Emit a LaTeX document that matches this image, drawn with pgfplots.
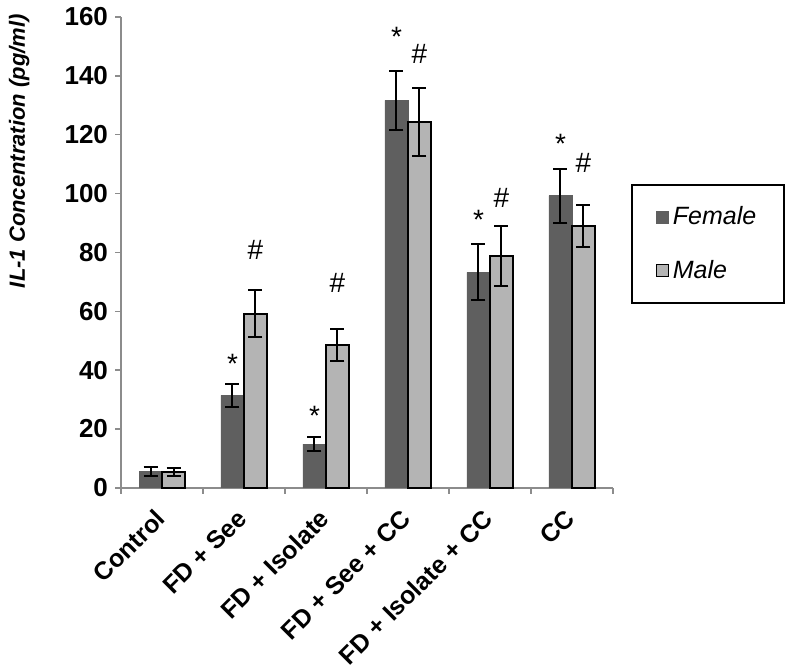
\documentclass[border=0pt]{standalone}
\usepackage{fontspec}
\setmainfont{Liberation Sans}
\usepackage{pgfplots}
\pgfplotsset{compat=1.18}
\definecolor{fem}{HTML}{5F5F5F}
\definecolor{mal}{HTML}{B4B4B4}
\definecolor{axgray}{HTML}{8C8C8C}
\pgfplotstableread{
x y err
0 5.5 1.5
1 31.4 4
2 14.9 2.3
3 131.7 10
4 73.2 9.5
5 99.3 9.2
}\female
\pgfplotstableread{
x y err
0 5.3 1.3
1 59.1 8
2 48.6 5.5
3 124.4 11.5
4 78.7 10.2
5 88.9 7.2
}\male
\begin{document}
\begin{tikzpicture}
\begin{axis}[
  scale only axis, width=246pt, height=235.5pt,
  xmin=-0.5, xmax=5.5, ymin=0, ymax=160,
  ybar=0pt, bar width=11.5pt,
  clip=false,
  axis x line*=bottom, axis y line*=left,
  axis line style={axgray, line width=0.75pt, -},
  ytick={0,20,...,160},
  xtick={0,...,5},
  xticklabels={Control, FD + See, FD + Isolate, FD + See + CC, FD + Isolate + CC, CC},
  minor xtick={-0.5,0.5,...,5.5},
  major x tick style={draw=none},
  tick align=outside,
  major tick length=3pt, minor tick length=3pt,
  every tick/.style={axgray, line width=0.75pt},
  /pgf/number format/assume math mode=true,
  yticklabel style={font=\bfseries\fontsize{13}{15}\selectfont, black},
  xticklabel style={font=\bfseries\fontsize{12.5}{15}\selectfont, black, xshift=-4pt, yshift=-6.8pt, rotate=45, anchor=north east, inner sep=0pt},
  ylabel={IL-1 Concentration (pg/ml)},
  ylabel style={font=\bfseries\itshape\fontsize{11}{13}\selectfont, at={(rel axis cs:-0.207,0.715)}, anchor=center},
  legend style={at={(rel axis cs:1.037,0.645)}, anchor=north west, draw=black, line width=0.75pt,
    font=\itshape\fontsize{12.5}{14}\selectfont, row sep=12pt, inner xsep=12pt, inner ysep=9pt},
  legend cell align=left,
  legend image code/.code={\draw[#1, line width=0.5pt] (0pt,-3pt) rectangle (6pt,3pt);},
  error bars/y dir=both, error bars/y explicit,
  error bars/error bar style={black, line width=1pt},
  error bars/error mark options={rotate=90, mark size=3.5pt, black, line width=1pt},
]
\addplot[fill=fem, draw=fem] table[x=x, y=y, y error=err] {\female};
\addplot[fill=mal, draw=black, line width=1pt] table[x=x, y=y, y error=err] {\male};
\legend{Female, Male}
\begin{scope}[every node/.style={font=\fontsize{14}{14}\selectfont, inner sep=0pt}]
\node at (axis cs:0.86,42) {*};
\node at (axis cs:1.86,24.5) {*};
\node at (axis cs:2.86,153.2) {*};
\node at (axis cs:3.86,90.9) {*};
\node at (axis cs:4.86,117) {*};
\node at (axis cs:1.14,81) {\#};
\node at (axis cs:2.14,69.7) {\#};
\node at (axis cs:3.14,147.3) {\#};
\node at (axis cs:4.14,98.6) {\#};
\node at (axis cs:5.14,110.5) {\#};
\end{scope}
\coordinate (bbsw) at (rel axis cs:-0.246,-0.386);
\coordinate (bbne) at (rel axis cs:1.362,1.036);
\end{axis}
\pgfresetboundingbox
\path[use as bounding box] (bbsw) rectangle (bbne);
\end{tikzpicture}
\end{document}
